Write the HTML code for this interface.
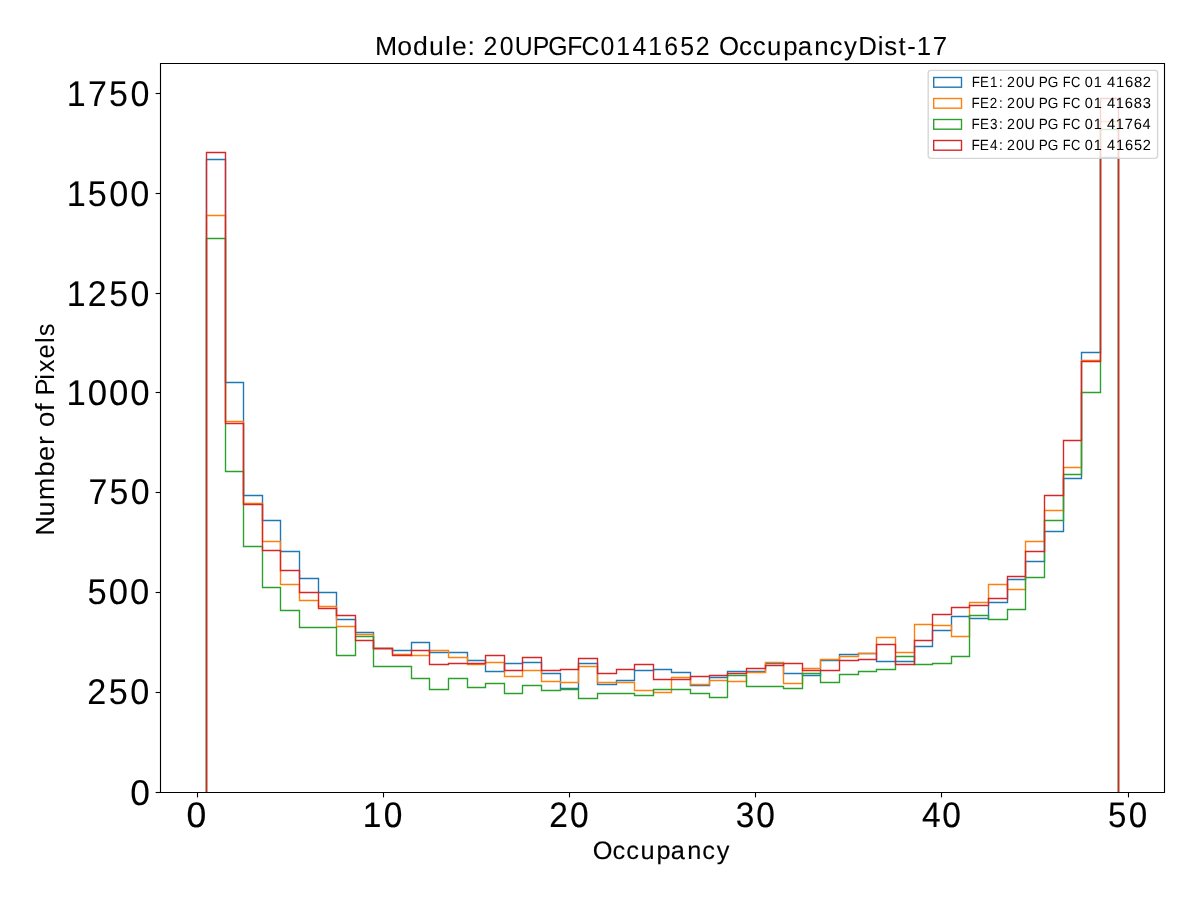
<!DOCTYPE html>
<html lang="en"><head><meta charset="utf-8"><title>Module: 20UPGFC0141652 OccupancyDist-17</title>
<style>html,body{margin:0;padding:0;background:#ffffff;overflow:hidden}svg{display:block}text{font-family:"Liberation Sans",sans-serif;fill:#000;text-rendering:geometricPrecision}</style></head><body>
<svg width="1200" height="900" viewBox="0 0 1200 900">
<rect x="0" y="0" width="1200" height="900" fill="#ffffff"/>
<defs><clipPath id="ax"><rect x="160.5" y="63.5" width="1004.0" height="729.0"/></clipPath><filter id="gs" x="0" y="0" width="1200" height="900" filterUnits="userSpaceOnUse" color-interpolation-filters="sRGB"><feColorMatrix type="matrix" values="0.333 0.333 0.333 0 0 0.333 0.333 0.333 0 0 0.333 0.333 0.333 0 0 0 0 0 1 0"/></filter></defs>
<g clip-path="url(#ax)" fill="none" stroke-width="1.39" stroke-linejoin="miter" stroke-linecap="butt">
<path d="M206.5 792.5V159.5H225.5V382.5H243.5V495.5H262.5V520.5H280.5V551.5H299.5V578.5H318.5V592.5H336.5V619.5H355.5V632.5H373.5V648.5H392.5V650.5H411.5V642.5H429.5V652.5H448.5H467.5V660.5H485.5V671.5H504.5V663.5H522.5V662.5H541.5V673.5H560.5V688.5H578.5V663.5H597.5V684.5H616.5V680.5H634.5V670.5H653.5V669.5H671.5V672.5H690.5V685.5H709.5V677.5H727.5V671.5H746.5H765.5V663.5H783.5V673.5H802.5V675.5H820.5V660.5H839.5V654.5H858.5V653.5H876.5V661.5H895.5H914.5V646.5H932.5V630.5H951.5V616.5H969.5V618.5H988.5V602.5H1007.5V579.5H1025.5V561.5H1044.5V531.5H1063.5V478.5H1081.5V352.5H1100.5V157.5H1118.5V792.5" stroke="#1f77b4"/>
<path d="M206.5 792.5V215.5H225.5V421.5H243.5V503.5H262.5V541.5H280.5V584.5H299.5V600.5H318.5V606.5H336.5V626.5H355.5V634.5H373.5V648.5H392.5V654.5H411.5V655.5H429.5V650.5H448.5V657.5H467.5V664.5H485.5V662.5H504.5V676.5H522.5V670.5H541.5V681.5H560.5V682.5H578.5V666.5H597.5V682.5H616.5H634.5V690.5H653.5V692.5H671.5V677.5H690.5V684.5H709.5V680.5H727.5V681.5H746.5V672.5H765.5V662.5H783.5V683.5H802.5V668.5H820.5V659.5H839.5V656.5H858.5V653.5H876.5V637.5H895.5V652.5H914.5V624.5H932.5V625.5H951.5V636.5H969.5V602.5H988.5V584.5H1007.5V589.5H1025.5V541.5H1044.5V510.5H1063.5V467.5H1081.5V360.5H1100.5V121.5H1118.5V792.5" stroke="#ff7f0e"/>
<path d="M206.5 792.5V238.5H225.5V471.5H243.5V546.5H262.5V587.5H280.5V610.5H299.5V627.5H318.5H336.5V655.5H355.5V636.5H373.5V666.5H392.5H411.5V678.5H429.5V689.5H448.5V678.5H467.5V687.5H485.5V683.5H504.5V693.5H522.5V685.5H541.5V690.5H560.5V689.5H578.5V698.5H597.5V693.5H616.5H634.5V695.5H653.5V689.5H671.5H690.5V693.5H709.5V697.5H727.5V675.5H746.5V686.5H765.5H783.5V688.5H802.5V673.5H820.5V682.5H839.5V674.5H858.5V671.5H876.5V669.5H895.5V656.5H914.5V664.5H932.5V663.5H951.5V656.5H969.5V615.5H988.5V619.5H1007.5V609.5H1025.5V577.5H1044.5V520.5H1063.5V474.5H1081.5V392.5H1100.5V129.5H1118.5V792.5" stroke="#2ca02c"/>
<path d="M206.5 792.5V152.5H225.5V423.5H243.5V504.5H262.5V550.5H280.5V570.5H299.5V592.5H318.5V608.5H336.5V615.5H355.5V640.5H373.5V648.5H392.5V655.5H411.5V650.5H429.5V664.5H448.5V663.5H467.5H485.5V655.5H504.5V670.5H522.5V657.5H541.5V670.5H560.5V669.5H578.5V658.5H597.5V673.5H616.5V669.5H634.5V664.5H653.5V679.5H671.5H690.5V676.5H709.5V675.5H727.5V673.5H746.5V668.5H765.5V665.5H783.5V663.5H802.5V670.5H820.5H839.5V660.5H858.5V659.5H876.5V644.5H895.5V664.5H914.5V640.5H932.5V614.5H951.5V607.5H969.5V605.5H988.5V598.5H1007.5V576.5H1025.5V551.5H1044.5V495.5H1063.5V440.5H1081.5V361.5H1100.5V98.5H1118.5V792.5" stroke="#d62728"/>
</g>
<g stroke="#000" stroke-width="1.11" fill="none">
<path d="M197.5 792.5V797.4"/>
<path d="M383.5 792.5V797.4"/>
<path d="M569.5 792.5V797.4"/>
<path d="M755.5 792.5V797.4"/>
<path d="M941.5 792.5V797.4"/>
<path d="M1128.5 792.5V797.4"/>
<path d="M160.5 792.5H155.6"/>
<path d="M160.5 692.5H155.6"/>
<path d="M160.5 592.5H155.6"/>
<path d="M160.5 492.5H155.6"/>
<path d="M160.5 392.5H155.6"/>
<path d="M160.5 293.5H155.6"/>
<path d="M160.5 193.5H155.6"/>
<path d="M160.5 93.5H155.6"/>
<path d="M160.5 63.5H1164.5V792.5H160.5Z" stroke-linejoin="miter" stroke-linecap="square"/>
</g>
<g filter="url(#gs)" stroke="#000" stroke-width="0.056" stroke-linejoin="round">
<text transform="translate(0 54.91) scale(1.0249 1.0083)" font-size="26" x="365.93 387.69 402.89 418.62 434.24 440.95 456.25">Module:</text>
<text transform="translate(0 54.91) scale(0.9554 1.0083)" font-size="26" x="506.05 523.09 538.88 557.57 573.73 593.61 608.75 628.55 645.12 661.92 678.50 695.32 711.90 728.35">20UPGFC0141652</text>
<text transform="translate(0 54.91) scale(0.9932 1.0083)" font-size="26" x="723.87 744.02 757.88 772.31 788.52 803.13 819.84 835.14 849.81 864.14 883.81 890.43 904.59 913.42 922.95 939.07">OccupancyDist-17</text>
</g>
<g filter="url(#gs)" stroke="#000" stroke-width="0.129" stroke-linejoin="round">
<text transform="translate(0 859.10) scale(0.9751 0.9720)" font-size="26" x="607.85 628.19 642.20 656.79 673.17 687.96 704.84 720.29 735.13">Occupancy</text>
</g>
<g filter="url(#gs)">
<text transform="translate(54.35 532.80) rotate(-90) scale(1.0436 1.0105)" font-size="26" x="-2.84 15.67 31.27 54.04 68.79 84.26">Number</text>
<text transform="translate(54.35 425.60) rotate(-90) scale(1.0946 1.0105)" font-size="26" x="-1.57 13.18">of</text>
<text transform="translate(54.35 392.60) rotate(-90) scale(0.9799 1.0105)" font-size="26" x="-2.97 13.18 20.73 34.90 50.72 57.60">Pixels</text>
</g>
<g filter="url(#gs)" stroke="#000" stroke-width="0.054" stroke-linejoin="round">
<text transform="translate(0 105.84) scale(0.9727 1.0222)" font-size="35" x="68.57 90.46 112.18 134.10">1750</text>
<text transform="translate(0 205.84) scale(0.9784 1.0222)" font-size="35" x="68.11 89.81 111.60 133.26">1500</text>
<text transform="translate(0 305.84) scale(0.9692 1.0222)" font-size="35" x="68.86 90.44 112.63 134.63">1250</text>
<text transform="translate(0 404.94) scale(0.9928 1.0222)" font-size="35" x="66.97 88.49 109.84 131.19">1000</text>
<text transform="translate(0 504.44) scale(0.9683 1.0222)" font-size="35" x="91.50 113.12 134.94">750</text>
<text transform="translate(0 604.44) scale(0.9879 1.0222)" font-size="35" x="88.47 110.13 131.65">500</text>
<text transform="translate(0 704.34) scale(0.9787 1.0222)" font-size="35" x="89.13 111.24 133.17">250</text>
<text transform="translate(0 805.24) scale(1.0101 1.0222)" font-size="35" x="129.02">0</text>
</g>
<g filter="url(#gs)" stroke="#000" stroke-width="0.145" stroke-linejoin="round">
<text transform="translate(0 826.55) scale(1.0161 1.0121)" font-size="35" x="183.66">0</text>
<text transform="translate(0 826.55) scale(0.9573 1.0121)" font-size="35" x="379.06 400.82">10</text>
<text transform="translate(0 826.55) scale(0.9559 1.0121)" font-size="35" x="574.48 596.43">20</text>
<text transform="translate(0 826.55) scale(0.9564 1.0121)" font-size="35" x="769.34 790.85">30</text>
<text transform="translate(0 826.55) scale(0.9578 1.0121)" font-size="35" x="962.63 983.76">40</text>
<text transform="translate(0 826.55) scale(0.9465 1.0121)" font-size="35" x="1170.66 1192.52">50</text>
</g>
<rect x="928.2" y="70.4" width="229.4" height="88.0" rx="2.8" ry="2.8" fill="#ffffff" fill-opacity="0.8" stroke="#cccccc" stroke-opacity="0.8" stroke-width="1.39"/>
<rect x="933.7" y="77.5" width="27.8" height="9.7" fill="none" stroke="#1f77b4" stroke-width="1.39"/>
<rect x="933.7" y="98.5" width="27.8" height="9.7" fill="none" stroke="#ff7f0e" stroke-width="1.39"/>
<rect x="933.7" y="119.5" width="27.8" height="9.7" fill="none" stroke="#2ca02c" stroke-width="1.39"/>
<rect x="933.7" y="140.5" width="27.8" height="9.7" fill="none" stroke="#d62728" stroke-width="1.39"/>
<g filter="url(#gs)">
<text transform="translate(0 87.30) scale(0.9222 1.0200)" font-size="14.5" x="1053.61 1062.73 1073.53 1083.32">FE1:</text>
<text transform="translate(0 87.30) scale(0.9837 1.0200)" font-size="14.5" x="1023.62 1032.89 1041.46">20U</text>
<text transform="translate(0 87.30) scale(0.9362 1.0200)" font-size="14.5" x="1109.54 1119.12">PG</text>
<text transform="translate(0 87.30) scale(0.8887 1.0200)" font-size="14.5" x="1195.80 1205.18">FC</text>
<text transform="translate(0 87.30) scale(1.0025 1.0200)" font-size="14.5" x="1082.08 1090.95">01</text>
<text transform="translate(0 87.30) scale(1.0221 1.0200)" font-size="14.5" x="1083.04 1091.77 1100.65 1109.46 1118.08">41682</text>
<text transform="translate(0 108.30) scale(0.9263 1.0200)" font-size="14.5" x="1048.91 1057.99 1068.60 1078.50">FE2:</text>
<text transform="translate(0 108.30) scale(0.9837 1.0200)" font-size="14.5" x="1023.62 1032.89 1041.46">20U</text>
<text transform="translate(0 108.30) scale(0.9362 1.0200)" font-size="14.5" x="1109.54 1119.12">PG</text>
<text transform="translate(0 108.30) scale(0.8887 1.0200)" font-size="14.5" x="1195.80 1205.18">FC</text>
<text transform="translate(0 108.30) scale(1.0025 1.0200)" font-size="14.5" x="1082.08 1090.95">01</text>
<text transform="translate(0 108.30) scale(1.0144 1.0200)" font-size="14.5" x="1091.24 1099.98 1108.87 1117.69 1126.52">41683</text>
<text transform="translate(0 129.30) scale(0.9263 1.0200)" font-size="14.5" x="1048.89 1057.98 1068.80 1078.48">FE3:</text>
<text transform="translate(0 129.30) scale(0.9837 1.0200)" font-size="14.5" x="1023.62 1032.89 1041.46">20U</text>
<text transform="translate(0 129.30) scale(0.9362 1.0200)" font-size="14.5" x="1109.54 1119.12">PG</text>
<text transform="translate(0 129.30) scale(0.8887 1.0200)" font-size="14.5" x="1195.80 1205.18">FC</text>
<text transform="translate(0 129.30) scale(1.0025 1.0200)" font-size="14.5" x="1082.08 1090.95">01</text>
<text transform="translate(0 129.30) scale(1.0083 1.0200)" font-size="14.5" x="1097.93 1106.65 1115.50 1124.33 1133.13">41764</text>
<text transform="translate(0 150.30) scale(0.9410 1.0200)" font-size="14.5" x="1032.38 1041.31 1051.96 1061.54">FE4:</text>
<text transform="translate(0 150.30) scale(0.9837 1.0200)" font-size="14.5" x="1023.62 1032.89 1041.46">20U</text>
<text transform="translate(0 150.30) scale(0.9362 1.0200)" font-size="14.5" x="1109.54 1119.12">PG</text>
<text transform="translate(0 150.30) scale(0.8887 1.0200)" font-size="14.5" x="1195.80 1205.18">FC</text>
<text transform="translate(0 150.30) scale(1.0025 1.0200)" font-size="14.5" x="1082.08 1090.95">01</text>
<text transform="translate(0 150.30) scale(1.0081 1.0200)" font-size="14.5" x="1098.16 1107.02 1116.02 1124.90 1133.69">41652</text>
</g>
</svg></body></html>
